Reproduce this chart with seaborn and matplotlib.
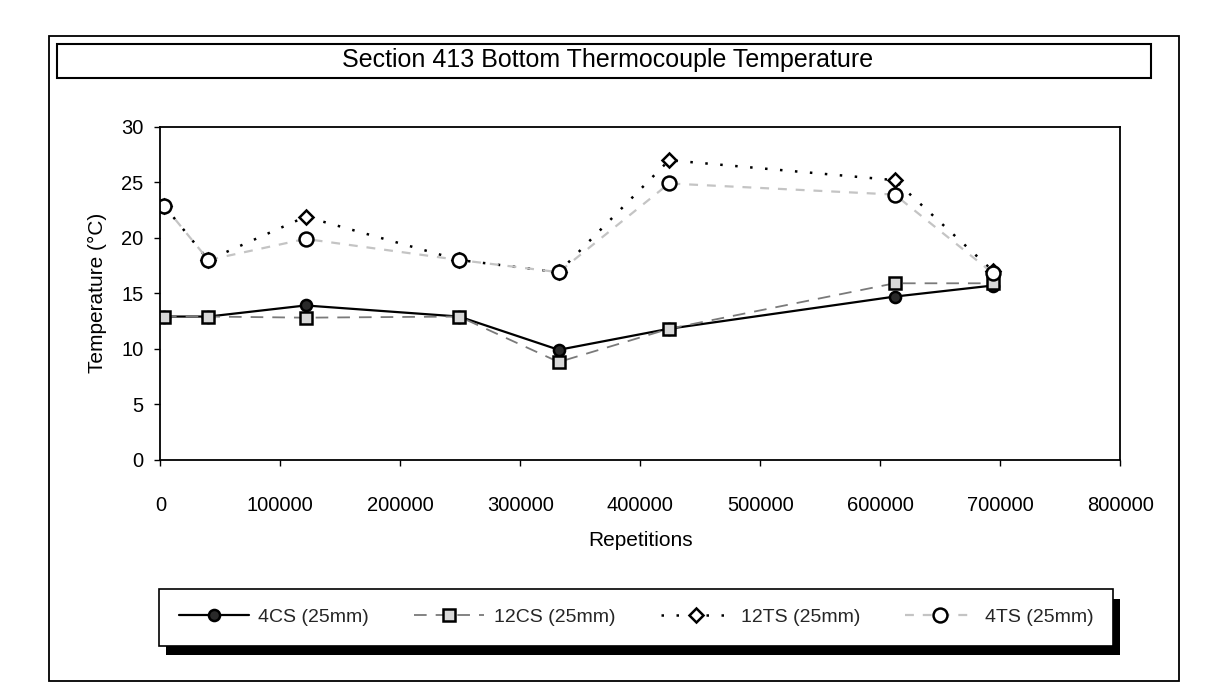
import numpy as np
import pandas as pd
import seaborn as sns
import matplotlib.pyplot as plt
from matplotlib.patches import Rectangle

sns.set_theme(style="white")
plt.rcParams['font.family'] = ['Liberation Sans', 'DejaVu Sans']

# Values
repetitions = [3000, 40000, 121000, 249000, 332000, 424000, 612000, 694000]
temp_4cs = [12.9, 12.9, 13.9, 12.9, 9.9, 11.8, 14.7, 15.7]
temp_12cs = [12.9, 12.9, 12.8, 12.9, 8.8, 11.8, 15.9, 15.9]
temp_12ts = [22.9, 18.0, 21.9, 18.0, 16.9, 27.0, 25.2, 17.0]
temp_4ts = [22.9, 18.0, 19.9, 18.0, 16.9, 24.9, 23.9, 16.8]

x_ticks = [0, 100000, 200000, 300000, 400000, 500000, 600000, 700000, 800000]
y_ticks = [0, 5, 10, 15, 20, 25, 30]

fig = plt.figure(figsize=(12.15, 6.86), dpi=100)
ax = fig.add_axes([0.132, 0.330, 0.790, 0.485])

# chart area frame and title box
fig.patches.append(Rectangle((0.040, 0.008), 0.930, 0.940, transform=fig.transFigure,
                             fill=False, edgecolor="black", linewidth=1.3, zorder=-2))
fig.patches.append(Rectangle((0.047, 0.886), 0.900, 0.050, transform=fig.transFigure,
                             fill=False, edgecolor="black", linewidth=1.5, zorder=-2))
fig.text(0.500, 0.912, "Section 413 Bottom Thermocouple Temperature",
         ha="center", va="center", fontsize=18, color="black")

series = [
    ("4CS (25mm)", temp_4cs, dict(color="black", linestyle="-", linewidth=1.6, marker="o",
                                  markersize=8, markerfacecolor="#2a2a2a")),
    ("12CS (25mm)", temp_12cs, dict(color="#7a7a7a", linestyle=(0, (7, 5)), linewidth=1.3, marker="s",
                                    markersize=9, markerfacecolor="#d8d8d8")),
    ("12TS (25mm)", temp_12ts, dict(color="black", linestyle=(0, (1, 5)), linewidth=1.8, marker="D",
                                    markersize=7, markerfacecolor="white")),
    ("4TS (25mm)", temp_4ts, dict(color="#c4c4c4", linestyle=(0, (4, 4)), linewidth=1.6, marker="o",
                                  markersize=10, markerfacecolor="white")),
]

for name, values, style in series:
    sns.lineplot(x=repetitions, y=values, ax=ax, label=name, sort=False,
                 markeredgecolor="black", markeredgewidth=1.8, **style)

ax.set_xlim(0, 800000)
ax.set_ylim(0, 30)
ax.set_xticks(x_ticks)
ax.set_xticklabels([str(t) for t in x_ticks])
ax.set_yticks(y_ticks)
ax.tick_params(axis="both", labelsize=14.5, colors="black", direction="out", length=4, width=1,
               bottom=True, left=True)
ax.tick_params(axis="x", pad=22)
ax.tick_params(axis="y", pad=8)
for side in ["left", "bottom", "top", "right"]:
    ax.spines[side].set_color("black")
    ax.spines[side].set_linewidth(1.3)
ax.grid(False)

ax.set_xlabel("Repetitions", fontsize=15, color="black", labelpad=12)
ax.set_ylabel("Temperature (°C)", fontsize=15, color="black", labelpad=10)

handles, labels = ax.get_legend_handles_labels()
leg = ax.legend(handles, labels, loc="center", ncol=4, mode="expand", borderaxespad=0,
                bbox_to_anchor=(0.131, 0.080, 0.785, 0.04), bbox_transform=fig.transFigure,
                fontsize=14, handlelength=3.6, handletextpad=0.5, frameon=True, fancybox=False,
                edgecolor="black", framealpha=1, borderpad=1.0)
leg.get_frame().set_linewidth(1.2)

# heavy drop shadow under the legend box
fig.canvas.draw()
bb = leg.get_window_extent().transformed(fig.transFigure.inverted())
fig.patches.append(Rectangle((bb.x0 + 0.006, bb.y0 - 0.014), bb.width, bb.height,
                             transform=fig.transFigure, facecolor="black",
                             edgecolor="none", zorder=-1))

fig.savefig("out.png", dpi=100)
